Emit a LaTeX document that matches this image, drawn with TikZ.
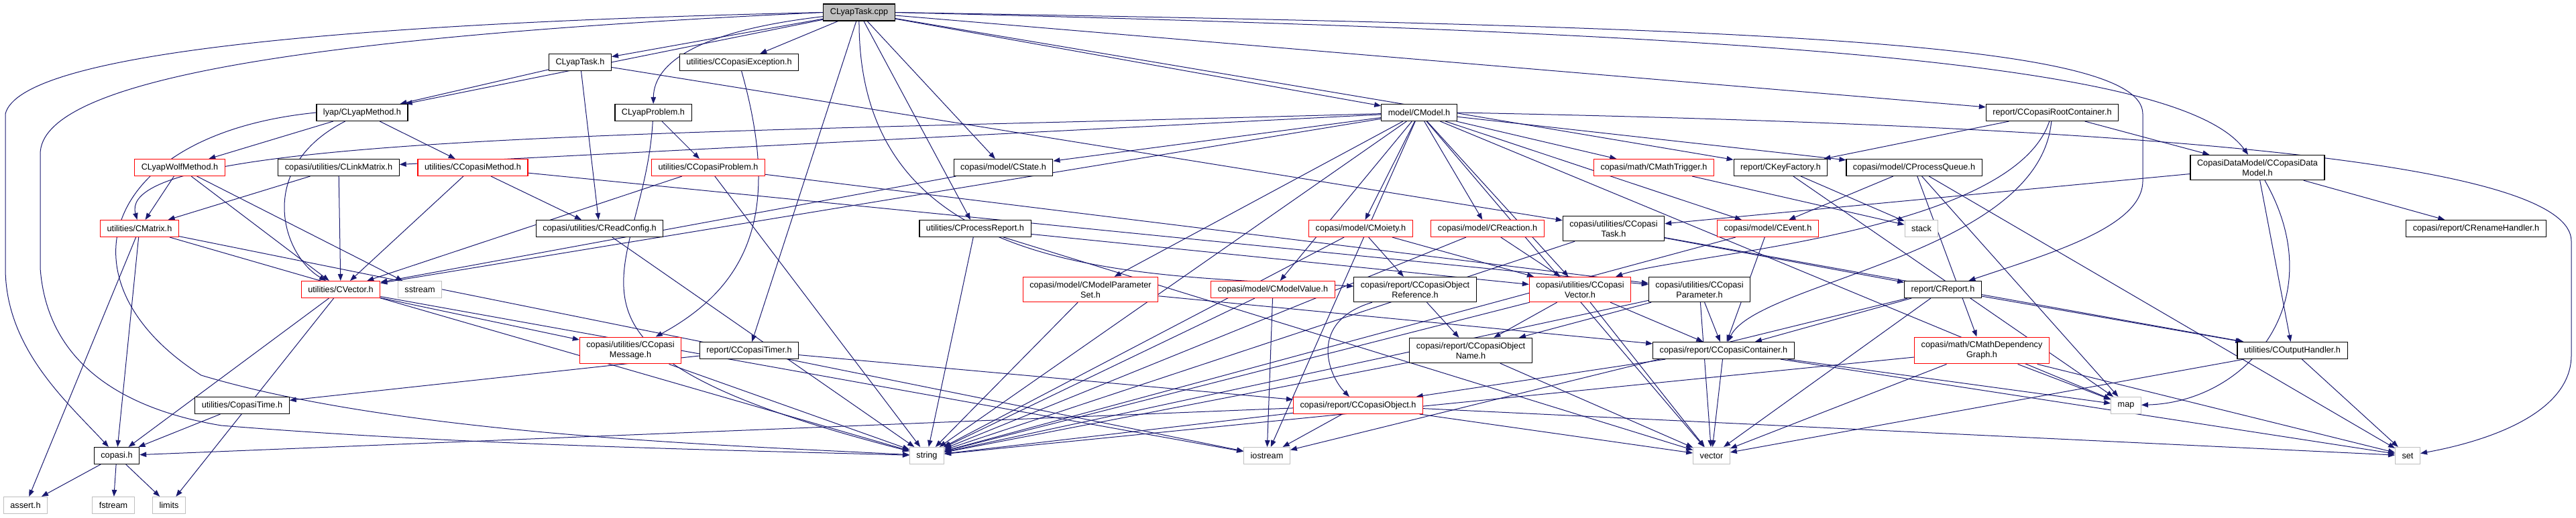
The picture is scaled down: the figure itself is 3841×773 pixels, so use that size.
\documentclass[tikz,border=0pt]{standalone}
\usepackage{fontspec}
\setmainfont{Liberation Sans}
\usetikzlibrary{arrows.meta,backgrounds}
\definecolor{edgeblue}{HTML}{191970}
\definecolor{sysgray}{HTML}{BFBFBF}
\begin{document}
\begin{tikzpicture}[x=1pt,y=1pt,
  hdr/.style={draw=black,fill=white,line width=1.1pt,inner xsep=10pt,inner ysep=6.5pt,minimum height=25pt,align=center,font=\fontsize{12.7}{15}\selectfont},
  trunc/.style={hdr,draw=red},
  sys/.style={hdr,draw=sysgray},
  root/.style={hdr,fill=sysgray},
  edge/.style={draw=edgeblue,line width=1pt,-{Triangle[length=10pt,width=7.5pt]}}]
\useasboundingbox (0,0) rectangle (3841,-773);

\node[root] (cpp) at (1281,-18.5) {CLyapTask.cpp};
\node[hdr] (lyaptaskh) at (865,-93) {CLyapTask.h};
\node[hdr] (exception) at (1102,-93) {utilities/CCopasiException.h};
\node[hdr] (lyapmethod) at (540,-168) {lyap/CLyapMethod.h};
\node[hdr] (lyapproblem) at (974,-168) {CLyapProblem.h};
\node[hdr] (model) at (2116,-168) {model/CModel.h};
\node[hdr] (rootcont) at (3060,-168) {report/CCopasiRootContainer.h};
\node[trunc] (wolf) at (268,-250) {CLyapWolfMethod.h};
\node[hdr] (linkmatrix) at (505,-250) {copasi/utilities/CLinkMatrix.h};
\node[trunc] (method) at (705,-250) {utilities/CCopasiMethod.h};
\node[trunc] (problem) at (1056,-250) {utilities/CCopasiProblem.h};
\node[hdr] (state) at (1496,-250) {copasi/model/CState.h};
\node[trunc] (trigger) at (2466,-250) {copasi/math/CMathTrigger.h};
\node[hdr] (keyfactory) at (2655,-250) {report/CKeyFactory.h};
\node[hdr] (queue) at (2854,-250) {copasi/model/CProcessQueue.h};
\node[hdr] (datamodel) at (3366,-250) {CopasiDataModel/CCopasiData\\Model.h};
\node[trunc] (matrix) at (208,-341) {utilities/CMatrix.h};
\node[hdr] (readconfig) at (894,-341) {copasi/utilities/CReadConfig.h};
\node[hdr] (procreport) at (1454,-341) {utilities/CProcessReport.h};
\node[trunc] (moiety) at (2029,-341) {copasi/model/CMoiety.h};
\node[trunc] (reaction) at (2218,-341) {copasi/model/CReaction.h};
\node[hdr] (task) at (2406,-341) {copasi/utilities/CCopasi\\Task.h};
\node[trunc] (event) at (2636,-341) {copasi/model/CEvent.h};
\node[sys] (stack) at (2865,-341) {stack};
\node[hdr] (rename) at (3692,-341) {copasi/report/CRenameHandler.h};
\node[trunc] (cvector) at (508,-432) {utilities/CVector.h};
\node[sys] (sstream) at (626,-432) {sstream};
\node[trunc] (paramset) at (1626,-432) {copasi/model/CModelParameter\\Set.h};
\node[trunc] (modelvalue) at (1898,-432) {copasi/model/CModelValue.h};
\node[hdr] (objref) at (2110,-432) {copasi/report/CCopasiObject\\Reference.h};
\node[trunc] (copvector) at (2356,-432) {copasi/utilities/CCopasi\\Vector.h};
\node[hdr] (parameter) at (2534,-432) {copasi/utilities/CCopasi\\Parameter.h};
\node[hdr] (report) at (2897,-432) {report/CReport.h};
\node[trunc] (message) at (940,-523) {copasi/utilities/CCopasi\\Message.h};
\node[hdr] (timer) at (1117,-523) {report/CCopasiTimer.h};
\node[hdr] (objname) at (2193,-523) {copasi/report/CCopasiObject\\Name.h};
\node[hdr] (container) at (2570,-523) {copasi/report/CCopasiContainer.h};
\node[trunc] (depgraph) at (2955,-523) {copasi/math/CMathDependency\\Graph.h};
\node[hdr] (output) at (3418,-523) {utilities/COutputHandler.h};
\node[hdr] (copasitime) at (361,-605) {utilities/CopasiTime.h};
\node[trunc] (object) at (2025,-605) {copasi/report/CCopasiObject.h};
\node[sys] (map) at (3170,-605) {map};
\node[hdr] (copasih) at (174,-680) {copasi.h};
\node[sys] (string) at (1382,-680) {string};
\node[sys] (iostream) at (1889,-680) {iostream};
\node[sys] (vector) at (2552,-680) {vector};
\node[sys] (set) at (3590,-680) {set};
\node[sys] (assert) at (38,-754) {assert.h};
\node[sys] (fstream) at (169,-754) {fstream};
\node[sys] (limits) at (252,-754) {limits};

\coordinate (lA) at (8,-170);
\coordinate (lB) at (8,-400);
\coordinate (lC) at (60,-230);
\coordinate (lD) at (60,-400);
\coordinate (rA) at (3195,-170);
\coordinate (rB) at (3195,-270);
\coordinate (rC) at (3834,-360);
\coordinate (rD) at (3834,-530);

\begin{scope}[on background layer]
\draw[edge] (cpp) -- (lyaptaskh);
\draw[edge] (cpp) -- (exception);
\draw[edge] (cpp) -- (lyapmethod);
\draw[edge] (cpp) .. controls (1050,-45) and (975,-90) .. (lyapproblem);
\draw[edge] (cpp) -- (model);
\draw[edge] (cpp) -- (rootcont);
\draw[edge] (cpp.east) .. controls (2600,-50) and (3250,-90) .. (datamodel);
\draw[edge] (cpp) -- (state);
\draw[edge] (cpp) -- (procreport);
\draw[edge] (cpp) -- (keyfactory);
\draw[edge] (cpp) -- (timer);
\draw[edge] (cpp) .. controls (1280,-420) and (1700,-410) .. (objref);
\draw[edge] (cpp.east) .. controls (2600,-40) and (3195,-60) .. (rA) -- (rB) .. controls (3195,-340) and (3050,-380) .. (report);
\draw[edge] (cpp.west) .. controls (500,-35) and (30,-80) .. (lA) -- (lB) .. controls (8,-520) and (100,-600) .. (copasih);
\draw[edge] (cpp.west) .. controls (450,-55) and (60,-120) .. (lC) -- (lD) .. controls (70,-540) and (180,-610) .. (330,-635) .. controls (700,-665) and (1100,-672) .. (string);

\draw[edge] (lyaptaskh) -- (lyapmethod);
\draw[edge] (lyaptaskh) -- (readconfig);
\draw[edge] (lyaptaskh) -- (task);

\draw[edge] (lyapmethod) -- (wolf);
\draw[edge] (lyapmethod) -- (method);
\draw[edge] (lyapmethod) .. controls (380,-250) and (420,-380) .. (cvector);
\draw[edge] (lyapmethod.west) .. controls (150,-200) and (80,-420) .. (300,-560) .. controls (600,-650) and (1100,-665) .. (string);

\draw[edge] (lyapproblem) -- (problem);
\draw[edge] (lyapproblem) .. controls (960,-420) and (760,-520) .. (string);

\draw[edge] (wolf) -- (matrix);
\draw[edge] (wolf) -- (cvector);
\draw[edge] (wolf) -- (sstream);

\draw[edge] (linkmatrix) -- (matrix);
\draw[edge] (linkmatrix) -- (cvector);

\draw[edge] (method) -- (readconfig);
\draw[edge] (method) -- (cvector);
\draw[edge] (method) -- (parameter);

\draw[edge] (problem) -- (parameter);
\draw[edge] (problem) -- (cvector);
\draw[edge] (problem) -- (string);

\draw[edge] (state) -- (cvector);

\draw[edge] (model) .. controls (1000,-200) and (170,-200) .. (matrix);
\draw[edge] (model) -- (linkmatrix);
\draw[edge] (model) -- (state);
\draw[edge] (model) -- (cvector);
\draw[edge] (model) -- (moiety);
\draw[edge] (model) -- (reaction);
\draw[edge] (model) -- (trigger);
\draw[edge] (model) -- (event);
\draw[edge] (model) -- (queue);
\draw[edge] (model) -- (paramset);
\draw[edge] (model) -- (modelvalue);
\draw[edge] (model) -- (string);
\draw[edge] (model) -- (copvector);
\draw[edge] (model) -- (map);
\draw[edge] (model) -- (iostream);
\draw[edge] (model) -- (vector);
\draw[edge] (model.east) .. controls (3300,-190) and (3834,-250) .. (rC) -- (rD) .. controls (3834,-620) and (3700,-660) .. (set);

\draw[edge] (rootcont) -- (keyfactory);
\draw[edge] (rootcont) -- (datamodel);
\draw[edge] (rootcont) .. controls (3040,-380) and (2620,-420) .. (container);
\draw[edge] (rootcont) .. controls (3000,-350) and (2500,-380) .. (copvector);

\draw[edge] (datamodel) -- (rename);
\draw[edge] (datamodel) -- (output);
\draw[edge] (datamodel) .. controls (3480,-450) and (3350,-600) .. (map);
\draw[edge] (datamodel) -- (task);

\draw[edge] (matrix) -- (assert);
\draw[edge] (matrix) -- (copasih);
\draw[edge] (matrix) -- (iostream);
\draw[edge] (matrix) -- (string);

\draw[edge] (readconfig) -- (string);

\draw[edge] (procreport) -- (string);
\draw[edge] (procreport) -- (vector);
\draw[edge] (procreport) -- (copvector);

\draw[edge] (moiety) -- (objref);
\draw[edge] (moiety) -- (copvector);
\draw[edge] (moiety) -- (string);
\draw[edge] (reaction) -- (copvector);
\draw[edge] (reaction) -- (string);

\draw[edge] (task) -- (report);
\draw[edge] (task) -- (output);
\draw[edge] (task) -- (string);

\draw[edge] (event) -- (container);
\draw[edge] (event) -- (string);
\draw[edge] (trigger) -- (stack);
\draw[edge] (keyfactory) -- (stack);
\draw[edge] (keyfactory) -- (map);
\draw[edge] (queue) -- (event);
\draw[edge] (queue) -- (depgraph);
\draw[edge] (queue) -- (map);
\draw[edge] (queue) -- (set);

\draw[edge] (exception) .. controls (1160,-300) and (1130,-420) .. (message);

\draw[edge] (paramset) -- (string);
\draw[edge] (paramset) -- (container);
\draw[edge] (modelvalue) -- (string);
\draw[edge] (modelvalue) -- (iostream);
\draw[edge] (objref) -- (objname);
\draw[edge] (objref) .. controls (1950,-480) and (1980,-560) .. (object);
\draw[edge] (copvector) -- (objname);
\draw[edge] (copvector) -- (container);
\draw[edge] (copvector) -- (string);
\draw[edge] (copvector) -- (vector);
\draw[edge] (parameter) -- (objname);
\draw[edge] (parameter) -- (container);
\draw[edge] (parameter) -- (string);
\draw[edge] (parameter) -- (vector);
\draw[edge] (report) -- (container);
\draw[edge] (report) -- (output);
\draw[edge] (report) -- (vector);
\draw[edge] (report) -- (iostream);

\draw[edge] (objname) -- (string);
\draw[edge] (objname) -- (vector);
\draw[edge] (container) -- (object);
\draw[edge] (container) -- (vector);
\draw[edge] (container) -- (map);
\draw[edge] (container) -- (set);
\draw[edge] (depgraph) -- (vector);
\draw[edge] (depgraph) -- (map);
\draw[edge] (depgraph) -- (set);
\draw[edge] (depgraph) -- (string);
\draw[edge] (output) -- (vector);
\draw[edge] (output) -- (set);
\draw[edge] (message) -- (string);
\draw[edge] (timer) -- (copasitime);
\draw[edge] (timer) -- (object);
\draw[edge] (copasitime) -- (copasih);

\draw[edge] (object) -- (string);
\draw[edge] (object) -- (iostream);
\draw[edge] (object) -- (vector);
\draw[edge] (object) -- (set);
\draw[edge] (object) -- (copasih);

\draw[edge] (cvector) -- (copasih);
\draw[edge] (cvector) -- (limits);
\draw[edge] (cvector) -- (message);
\draw[edge] (cvector) -- (iostream);

\draw[edge] (copasih) -- (assert);
\draw[edge] (copasih) -- (fstream);
\draw[edge] (copasih) -- (limits);
\end{scope}
\end{tikzpicture}
\end{document}
